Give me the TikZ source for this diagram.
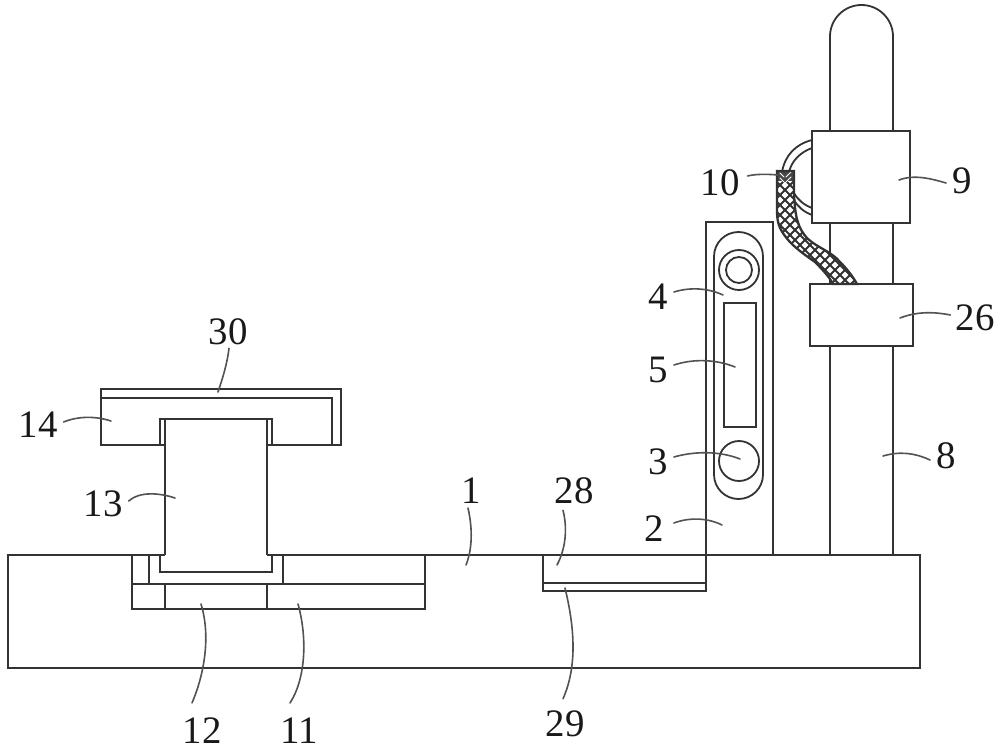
\documentclass[tikz,border=0pt]{standalone}
\usepackage{fontspec}
\setmainfont{Liberation Serif}
\definecolor{ink}{HTML}{333333}
\begin{document}
\begin{tikzpicture}[x=1bp,y=-1bp,
  part/.style={draw=ink,line width=1.8bp,line join=miter},
  solid part/.style={part,fill=white},
  leader/.style={draw=ink!85,line width=1.6bp,line cap=round},
  num/.style={inner sep=0pt,text=black!90,font=\fontsize{39}{39}\selectfont}]
\useasboundingbox[fill=white] (0,0) rectangle (1000,751);
% base
\draw[part] (165,555) -- (8,555) -- (8,668) -- (920,668) -- (920,555) -- (267,555);
% base recesses
\draw[part] (132,555) -- (132,609) -- (425,609) -- (425,555);
\draw[part] (132,584) -- (425,584);
\draw[part] (165,584) -- (165,609) (267,584) -- (267,609);
\draw[part] (149,555) -- (149,584) (283,555) -- (283,584);
\draw[part] (160,555) -- (160,572) -- (272,572) -- (272,555);
% column
\draw[part] (165,555) -- (165,419) (267,555) -- (267,419);
% top plate
\draw[part] (165,445) -- (101,445) -- (101,389) -- (341,389) -- (341,445) -- (267,445);
\draw[part] (101,398) -- (332,398) -- (332,445);
\draw[part] (160,445) -- (160,419) -- (272,419) -- (272,445);
% groove 28, 29
\draw[part] (543,555) -- (543,591) -- (706,591) -- (706,555);
\draw[part] (543,583) -- (706,583);
% upright plate
\draw[part] (706,555) -- (706,222) -- (773,222) -- (773,555);
\draw[part,rounded corners=24.5bp] (714,232) rectangle (763,499);
\draw[part] (739,270) circle[radius=20];
\draw[part] (739,270) circle[radius=13];
\draw[part] (724,303) rectangle (756,427);
\draw[part] (739,461) circle[radius=20];
% pole
\draw[part,rounded corners=31.5bp] (830,555) -- (830,5) -- (893,5) -- (893,555);
% hoops behind the hose
\draw[part] (812,140) .. controls (796,144) and (785,155) .. (782,172);
\draw[part] (812,148) .. controls (801,152) and (792,160) .. (789,172);
\draw[part] (794,193) .. controls (798,200) and (804,205) .. (812,208);
\draw[part] (794,200) .. controls (798,207) and (804,212) .. (812,215);
% collars
\draw[solid part] (812,131) rectangle (910,223);
\draw[solid part] (810,284) rectangle (913,346);
% hose
\def\hoseoutline{(777,171) -- (794,171) -- (794,193) .. controls (795,215) and (797,228) .. (808,239) .. controls (818,248) and (832,252) .. (840,262) .. controls (848,270) and (853,277) .. (857,284) -- (833,284) .. controls (830,278) and (823,270) .. (815,262) .. controls (805,255) and (792,246) .. (785,236) .. controls (779,228) and (777,222) .. (777,210) -- cycle}
\fill[white] \hoseoutline;
\begin{scope}
  \clip \hoseoutline;
  \foreach \k in {0,10,...,200}{
    \draw[ink,line width=1.8bp] (770,{165+\k}) -- (870,{265+\k});
    \draw[ink,line width=1.8bp] (770,{175+\k}) -- (870,{75+\k});
  }
  \fill[ink!90] (777,171) rectangle (794,181);
  \foreach \k in {0,5}{\draw[white,line width=1bp,line cap=round] (780,{173+\k}) -- (784,{177+\k}) (786,{177+\k}) -- (791,{172+\k});}
\end{scope}
\draw[part,line width=2.3bp] \hoseoutline;
% labels
\node[num] (l30) at (228,332) {30};
\node[num] (l14) at (38,425) {14};
\node[num] (l13) at (103,504) {13};
\node[num] (l1)  at (471,491) {1};
\node[num] (l28) at (574,491) {28};
\node[num] (l2)  at (654,529) {2};
\node[num] (l3)  at (658,462) {3};
\node[num] (l5)  at (658,370) {5};
\node[num] (l4)  at (658,297) {4};
\node[num] (l10) at (720,183) {10};
\node[num] (l9)  at (962,181) {9};
\node[num] (l26) at (975,318) {26};
\node[num] (l8)  at (946,456) {8};
\node[num] (l12) at (202,731) {12};
\node[num] (l11) at (299,731) {11};
\node[num] (l29) at (565,724) {29};
% leader ends
\coordinate (e30) at (218,392);
\coordinate (e14) at (111,421);
\coordinate (e13) at (175,498);
\coordinate (e1)  at (466,565);
\coordinate (e28) at (557,565);
\coordinate (e2)  at (722,525);
\coordinate (e3)  at (740,459);
\coordinate (e5)  at (735,367);
\coordinate (e4)  at (723,295);
\coordinate (e10) at (778,175);
\coordinate (e9)  at (899,180);
\coordinate (e26) at (900,318);
\coordinate (e8)  at (883,456);
\coordinate (e12) at (201,604);
\coordinate (e11) at (298,604);
\coordinate (e29) at (565,588);
% leaders
\draw[leader] ([shift={(1,3)}]l30.south) .. controls (227,365) and (222,380) .. (e30);
\draw[leader] ([shift={(6,-3)}]l14.east) .. controls (78,416) and (96,416) .. (e14);
\draw[leader] ([shift={(6,-3)}]l13.east) .. controls (140,491) and (160,493) .. (e13);
\draw[leader] ([shift={(-3,4)}]l1.south) .. controls (473,530) and (472,550) .. (e1);
\draw[leader] ([shift={(-11,6)}]l28.south) .. controls (568,530) and (565,550) .. (e28);
\draw[leader] ([shift={(10,-6)}]l2.east) .. controls (690,517) and (708,518) .. (e2);
\draw[leader] ([shift={(6,-5)}]l3.east) .. controls (695,451) and (720,451) .. (e3);
\draw[leader] ([shift={(6,-5)}]l5.east) .. controls (695,358) and (718,360) .. (e5);
\draw[leader] ([shift={(6,-5)}]l4.east) .. controls (690,287) and (708,288) .. (e4);
\draw[leader] ([shift={(8,-7)}]l10.east) .. controls (755,174) and (767,174) .. (e10);
\draw[leader] ([shift={(-6,2)}]l9.west) .. controls (932,179) and (915,174) .. (e9);
\draw[leader] ([shift={(-5,-3)}]l26.west) .. controls (935,312) and (918,311) .. (e26);
\draw[leader] ([shift={(-6,4)}]l8.west) .. controls (915,453) and (900,451) .. (e8);
\draw[leader] ([shift={(-10,-15)}]l12.north) .. controls (202,680) and (212,640) .. (e12);
\draw[leader] ([shift={(-9,-15)}]l11.north) .. controls (305,680) and (308,640) .. (e11);
\draw[leader] ([shift={(-2,-12)}]l29.north) .. controls (578,665) and (574,625) .. (e29);
\end{tikzpicture}
\end{document}
